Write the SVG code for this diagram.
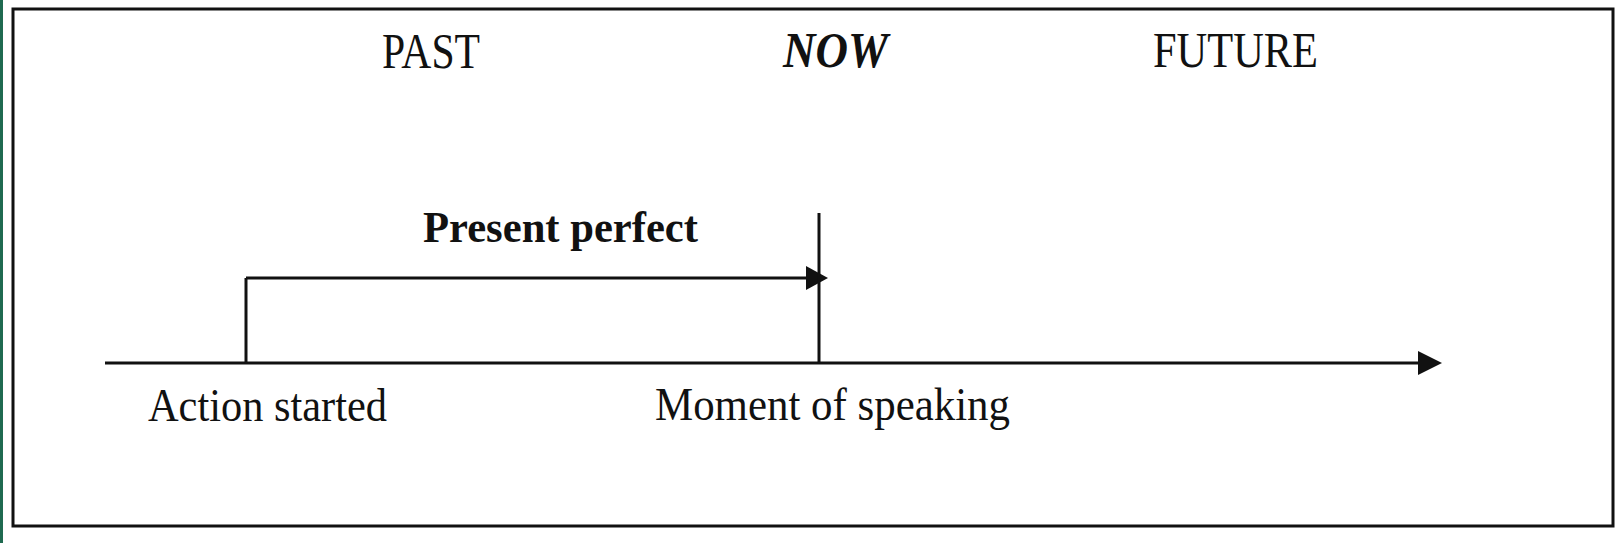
<svg xmlns="http://www.w3.org/2000/svg" width="1621" height="543" viewBox="0 0 1621 543">
  <style>
    .ln { stroke: #111; stroke-width: 3; fill: none; }
    .ah { fill: #111; stroke: none; }
    .t { font-family: "Liberation Serif", "Times New Roman", serif; fill: #111; }
  </style>
  <rect x="0" y="0" width="1621" height="543" fill="#ffffff"/>
  <rect x="0" y="0" width="3" height="543" fill="#1f6a50"/>
  <rect id="frame" x="13" y="9" width="1600" height="517" fill="#ffffff" stroke="#111" stroke-width="3"/>

  <g id="past">
    <text class="t" x="382" y="68" font-size="50" textLength="98" lengthAdjust="spacingAndGlyphs">PAST</text>
  </g>
  <g id="now">
    <text class="t" x="783" y="67" font-size="50" font-weight="bold" font-style="italic" textLength="105" lengthAdjust="spacingAndGlyphs">NOW</text>
  </g>
  <g id="future">
    <text class="t" x="1153" y="67" font-size="50" textLength="165" lengthAdjust="spacingAndGlyphs">FUTURE</text>
  </g>
  <g id="present-perfect">
    <text class="t" x="423" y="242" font-size="45" font-weight="bold" textLength="275" lengthAdjust="spacingAndGlyphs">Present perfect</text>
  </g>
  <g id="action-started">
    <text class="t" x="148" y="421" font-size="46" textLength="239" lengthAdjust="spacingAndGlyphs">Action started</text>
  </g>
  <g id="moment-of-speaking">
    <text class="t" x="655" y="420" font-size="46" textLength="355" lengthAdjust="spacingAndGlyphs">Moment of speaking</text>
  </g>

  <g id="connectors">
    <line class="ln" x1="105" y1="363" x2="1425" y2="363"/>
    <polygon class="ah" points="1418,351 1442,363 1418,375"/>
    <line class="ln" x1="246" y1="278" x2="246" y2="363"/>
    <line class="ln" x1="246" y1="278" x2="812" y2="278"/>
    <polygon class="ah" points="806,266 828,278 806,290"/>
    <line class="ln" x1="819" y1="213" x2="819" y2="363"/>
  </g>
</svg>
